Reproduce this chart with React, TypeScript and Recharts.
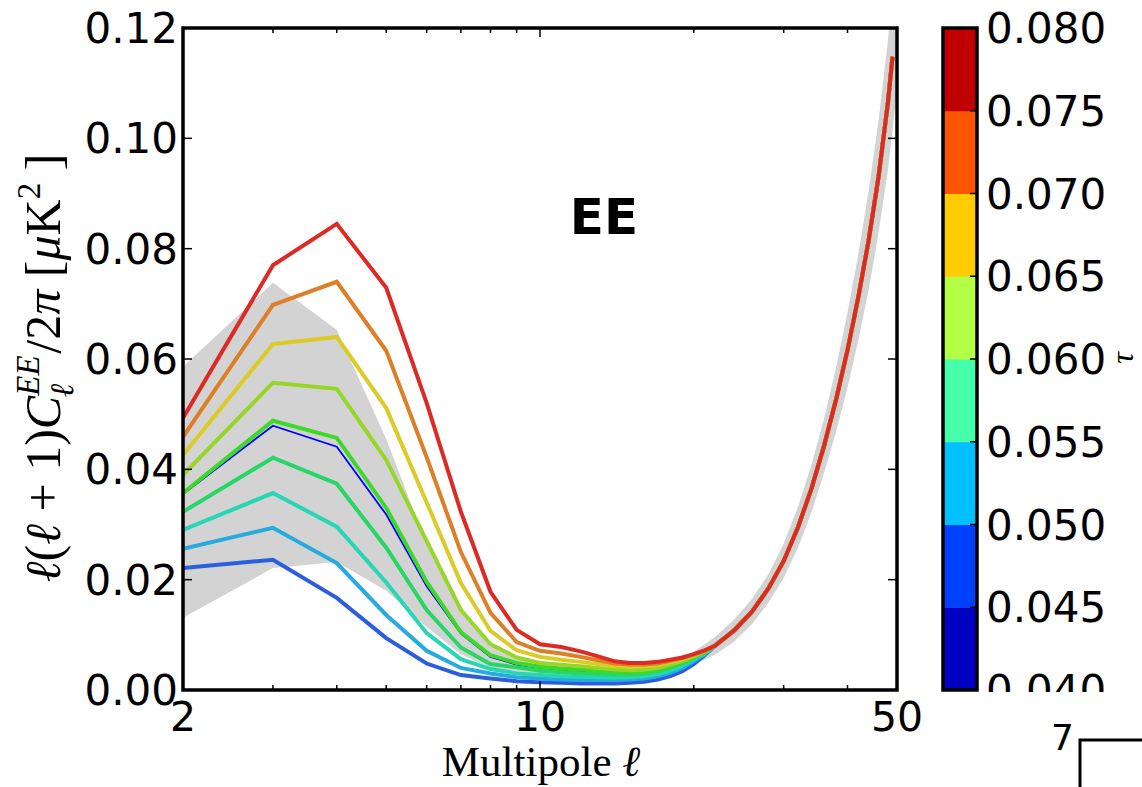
import React from "react";
import { Area, ComposedChart, Line, XAxis, YAxis } from "recharts";

// multipoles: every l up to 21, then every second one
const ELL = [
  2, 3, 4, 5, 6, 7, 8, 9, 10, 11, 12, 13, 14, 15, 16, 17, 18, 19, 20, 21,
  22, 24, 26, 28, 30, 32, 34, 36, 38, 40, 42, 44, 46, 48, 49, 50,
];

// low-l part of each tau model (l = 2..21)
const TAU_040 = [0.0221, 0.0236, 0.0167, 0.0094, 0.0048, 0.0027, 0.0021, 0.0016, 0.0014, 0.0013, 0.0012, 0.0012, 0.0012, 0.0013, 0.0015, 0.0019, 0.0025, 0.0034, 0.0047, 0.0063];
const TAU_045 = [0.0256, 0.0294, 0.023, 0.0136, 0.0071, 0.004, 0.003, 0.0023, 0.0021, 0.0019, 0.0018, 0.0018, 0.0018, 0.0019, 0.0021, 0.0025, 0.0031, 0.004, 0.0052, 0.0065];
const TAU_050 = [0.029, 0.0357, 0.0296, 0.0195, 0.0103, 0.0056, 0.0038, 0.003, 0.0027, 0.0025, 0.0024, 0.0023, 0.0022, 0.0023, 0.0025, 0.0029, 0.0035, 0.0044, 0.0055, 0.0066];
const TAU_055 = [0.0323, 0.0421, 0.0374, 0.0258, 0.0145, 0.0077, 0.0047, 0.0041, 0.0035, 0.0032, 0.003, 0.0029, 0.0028, 0.0028, 0.003, 0.0034, 0.004, 0.0048, 0.0058, 0.0068];
const TAU_060 = [0.0357, 0.0488, 0.0457, 0.033, 0.0196, 0.0105, 0.0063, 0.0049, 0.0042, 0.0039, 0.0037, 0.0035, 0.0033, 0.0032, 0.0033, 0.0037, 0.0043, 0.0051, 0.006, 0.0069];
const TAU_065 = [0.039, 0.0557, 0.0546, 0.0417, 0.027, 0.0145, 0.0083, 0.0059, 0.0049, 0.0046, 0.0043, 0.004, 0.0037, 0.0036, 0.0037, 0.004, 0.0046, 0.0053, 0.0061, 0.007];
const TAU_070 = [0.0426, 0.0627, 0.064, 0.0511, 0.034, 0.0194, 0.0107, 0.0072, 0.006, 0.0055, 0.0051, 0.0047, 0.0043, 0.0042, 0.0043, 0.0045, 0.005, 0.0056, 0.0063, 0.0071];
const TAU_075 = [0.0459, 0.0698, 0.074, 0.0615, 0.0422, 0.025, 0.014, 0.0087, 0.0071, 0.0066, 0.006, 0.0054, 0.0048, 0.0046, 0.0046, 0.0048, 0.0053, 0.0058, 0.0064, 0.0071];
const TAU_080 = [0.0493, 0.077, 0.0845, 0.0729, 0.052, 0.0323, 0.0178, 0.0109, 0.0083, 0.0078, 0.007, 0.0061, 0.0052, 0.0049, 0.0049, 0.0051, 0.0055, 0.0059, 0.0065, 0.0072];
const FIDUCIAL = [0.0355, 0.0479, 0.0441, 0.0318, 0.0188, 0.0102, 0.006, 0.0046, 0.004, 0.0037, 0.0035, 0.0033, 0.0031, 0.003, 0.0031, 0.0035, 0.0041, 0.0049, 0.0058, 0.0068];

// above l ~ 22 all models sit on top of each other (l = 22..48 step 2, 49)
const HIGH_L_COMMON = [0.008, 0.0108, 0.0142, 0.0184, 0.0234, 0.0295, 0.0365, 0.0443, 0.0527, 0.0616, 0.0712, 0.0815, 0.093, 0.1065, 0.1148];

// grey band, one value per entry of ELL
const BAND_LO = [
  0.0131, 0.0221, 0.0232, 0.018, 0.0114, 0.0065, 0.004, 0.0031, 0.0028, 0.0026, 0.0025, 0.0024, 0.0023, 0.0023, 0.0024, 0.0027, 0.0032, 0.0039, 0.0046, 0.0055,
  0.0064, 0.0088, 0.0119, 0.0158, 0.0203, 0.0258, 0.0322, 0.0394, 0.0469, 0.0548, 0.0634, 0.0725, 0.0828, 0.0943, 0.1015, 0.1085,
];
const BAND_HI = [
  0.0586, 0.0738, 0.0653, 0.0455, 0.0263, 0.0141, 0.0081, 0.0061, 0.0052, 0.0048, 0.0045, 0.0042, 0.0039, 0.0037, 0.0038, 0.0041, 0.0048, 0.0057, 0.007, 0.0083,
  0.0096, 0.0128, 0.0165, 0.021, 0.0265, 0.0332, 0.0408, 0.0492, 0.0585, 0.0684, 0.079, 0.0905, 0.1032, 0.1177, 0.127, 0.136,
];

const X_TICKS = [2, 3, 4, 5, 6, 7, 8, 9, 10, 20, 30, 40, 50];
const X_LABELS = [2, 10, 50];
const Y_TICKS = [0, 0.02, 0.04, 0.06, 0.08, 0.1, 0.12];

const CBAR_TICKS = [0.04, 0.045, 0.05, 0.055, 0.06, 0.065, 0.07, 0.075, 0.08];
const CBAR_COLORS = ["#0000c0", "#0040ff", "#00c0ff", "#45ffaa", "#b2ff45", "#ffcc00", "#ff5500", "#c00000"];

const SERIES = [
  { key: "fid", values: FIDUCIAL, color: "#0000ff", width: 1.8 },
  { key: "t040", values: TAU_040, color: "#2b5edd", width: 4 },
  { key: "t045", values: TAU_045, color: "#27aadd", width: 4 },
  { key: "t050", values: TAU_050, color: "#27d6b4", width: 4 },
  { key: "t055", values: TAU_055, color: "#27d666", width: 4 },
  { key: "t060", values: TAU_060, color: "#3dd927", width: 4 },
  { key: "t065", values: TAU_065, color: "#95d627", width: 4 },
  { key: "t070", values: TAU_070, color: "#dccb27", width: 4 },
  { key: "t075", values: TAU_075, color: "#dd7f27", width: 4 },
  { key: "t080", values: TAU_080, color: "#dc2b24", width: 4 },
];

const PLOT = { left: 183, right: 897, top: 28, bottom: 690 };
const SANS = "'DejaVu Sans', sans-serif";
const SERIF = "'Liberation Serif', 'DejaVu Serif', serif";

const data = ELL.map((l, i) => {
  const row: Record<string, unknown> = { l, band: [BAND_LO[i], BAND_HI[i]] };
  const n = TAU_080.length;
  SERIES.forEach((s) => {
    row[s.key] = i < n ? s.values[i] : i - n < HIGH_L_COMMON.length ? HIGH_L_COMMON[i - n] : null;
  });
  return row;
});

function XTick(props: any) {
  const { x, payload } = props;
  const v = payload.value;
  const len = v === 10 ? 9 : 5;
  return (
    <g>
      <line x1={x} x2={x} y1={PLOT.bottom} y2={PLOT.bottom - len} stroke="#000" strokeWidth={1.5} />
      <line x1={x} x2={x} y1={PLOT.top} y2={PLOT.top + len} stroke="#000" strokeWidth={1.5} />
      {X_LABELS.includes(v) && (
        <text x={x} y={PLOT.bottom + 41} textAnchor="middle" fontSize={41} fontFamily={SANS} fill="#000">
          {v}
        </text>
      )}
    </g>
  );
}

function YTick(props: any) {
  const { y, payload } = props;
  return (
    <g>
      <line x1={PLOT.left} x2={PLOT.left + 9} y1={y} y2={y} stroke="#000" strokeWidth={1.5} />
      <line x1={PLOT.right} x2={PLOT.right - 9} y1={y} y2={y} stroke="#000" strokeWidth={1.5} />
      <text x={PLOT.left - 5} y={y + 15} textAnchor="end" fontSize={42} fontFamily={SANS} fill="#000">
        {Number(payload.value).toFixed(2)}
      </text>
    </g>
  );
}

function Overlay() {
  const cb = { left: 943, right: 977, top: 28, bottom: 690 };
  const bin = (cb.bottom - cb.top) / CBAR_COLORS.length;
  return (
    <svg width={1142} height={787} style={{ position: "absolute", left: 0, top: 0, pointerEvents: "none" }}>
      <defs>
        <clipPath id="cbclip">
          <rect x={0} y={0} width={1142} height={692} />
        </clipPath>
      </defs>
      <rect
        x={PLOT.left}
        y={PLOT.top}
        width={PLOT.right - PLOT.left}
        height={PLOT.bottom - PLOT.top}
        fill="none"
        stroke="#000"
        strokeWidth={3.5}
      />
      <text x={604} y={234} textAnchor="middle" fontSize={50} fontWeight="bold" fontFamily={SANS}>
        EE
      </text>
      <text x={541} y={776} textAnchor="middle" fontSize={43} fontFamily={SERIF}>
        Multipole <tspan fontStyle="italic">ℓ</tspan>
      </text>
      <text transform="translate(60, 368) rotate(-90)" textAnchor="middle" fontSize={50} fontFamily={SERIF}>
        <tspan fontStyle="italic">ℓ</tspan>
        <tspan>(</tspan>
        <tspan fontStyle="italic">ℓ</tspan>
        <tspan> + 1)</tspan>
        <tspan fontStyle="italic">C</tspan>
        <tspan fontSize={33} fontStyle="italic" dy={-21}>EE</tspan>
        <tspan fontSize={33} fontStyle="italic" dx={-42} dy={34}>ℓ</tspan>
        <tspan dx={30} dy={-13}>/2</tspan>
        <tspan fontStyle="italic">π</tspan>
        <tspan> [</tspan>
        <tspan fontStyle="italic">μ</tspan>
        <tspan>K</tspan>
        <tspan fontSize={33} dy={-20}>2</tspan>
        <tspan dy={20}> ]</tspan>
      </text>

      {CBAR_COLORS.map((c, i) => (
        <rect key={c} x={cb.left} y={cb.bottom - (i + 1) * bin} width={cb.right - cb.left} height={bin + 0.5} fill={c} />
      ))}
      {CBAR_TICKS.map((t, i) => (
        <line key={t} x1={cb.right - 7} x2={cb.right} y1={cb.bottom - i * bin} y2={cb.bottom - i * bin} stroke="#000" strokeWidth={1.5} />
      ))}
      <rect x={cb.left} y={cb.top} width={cb.right - cb.left} height={cb.bottom - cb.top} fill="none" stroke="#000" strokeWidth={3.5} />
      <g clipPath="url(#cbclip)">
        {CBAR_TICKS.map((t, i) => (
          <text key={t} x={986} y={cb.bottom - i * bin + 15} fontSize={42} fontFamily={SANS} fill="#000">
            {t.toFixed(3)}
          </text>
        ))}
      </g>
      <text transform="translate(1133, 358) rotate(-90)" textAnchor="middle" fontSize={32} fontStyle="italic" fontFamily={SERIF}>
        τ
      </text>

      <text x={1074} y={750} textAnchor="end" fontSize={36} fontFamily={SANS}>
        7
      </text>
      <polyline points="1080,787 1080,740 1142,740" fill="none" stroke="#000" strokeWidth={3} />
    </svg>
  );
}

export default function App() {
  return (
    <div style={{ position: "absolute", left: 0, top: 0, width: 1142, height: 787, background: "#fff" }}>
      <ComposedChart
        width={1142}
        height={787}
        data={data}
        margin={{ top: PLOT.top, right: 1142 - PLOT.right, bottom: 787 - PLOT.bottom - 60, left: PLOT.left - 100 }}
      >
        <XAxis
          dataKey="l"
          type="number"
          scale="log"
          domain={[2, 50]}
          allowDataOverflow
          ticks={X_TICKS}
          interval={0}
          height={60}
          axisLine={false}
          tickLine={false}
          tickSize={0}
          tickMargin={0}
          tick={(p: any) => <XTick {...p} />}
        />
        <YAxis
          type="number"
          domain={[0, 0.12]}
          allowDataOverflow
          ticks={Y_TICKS}
          interval={0}
          width={100}
          axisLine={false}
          tickLine={false}
          tickSize={0}
          tickMargin={0}
          tick={(p: any) => <YTick {...p} />}
        />
        <Area
          dataKey="band"
          type="linear"
          fill="#d3d3d3"
          fillOpacity={1}
          stroke="none"
          isAnimationActive={false}
        />
        {SERIES.map((s) => (
          <Line
            key={s.key}
            dataKey={s.key}
            type="linear"
            stroke={s.color}
            strokeWidth={s.width}
            dot={false}
            activeDot={false}
            isAnimationActive={false}
          />
        ))}
      </ComposedChart>
      <Overlay />
    </div>
  );
}
